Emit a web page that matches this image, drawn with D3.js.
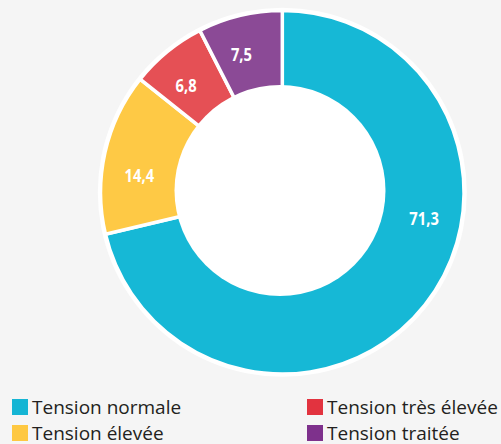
<!DOCTYPE html>
<html>
<head>
<meta charset="utf-8">
<script src="https://cdn.jsdelivr.net/npm/d3@7"></script>
<style>
  html, body { margin: 0; padding: 0; background: #f5f5f5; }
  svg { display: block; }
</style>
</head>
<body>
<svg id="chart" width="501" height="444"></svg>
<script>
// Répartition de la tension artérielle (%)
const categories = ["Tension normale", "Tension élevée", "Tension très élevée", "Tension traitée"];
const values = [71.3, 14.4, 6.8, 7.5];
const valueLabels = ["71,3", "14,4", "6,8", "7,5"];
const sliceColors = ["#16b8d6", "#fec945", "#e55055", "#8b4a96"];
const legendColors = ["#15b5d4", "#fec841", "#e2333f", "#7e318c"];
// legend placement order: column-major (left column first)
const legendOrder = [0, 1, 2, 3];

const svg = d3.select("#chart");
const cx = 282.3, cy = 192.3;
const rOuter = 180, rInner = 105.5;

const pie = d3.pie().sort(null).value(d => d)
  .startAngle(0).endAngle(2 * Math.PI);
const arcs = pie(values);

const g = svg.append("g").attr("transform", `translate(${cx},${cy})`);

// white rim around the ring
g.append("circle").attr("r", rOuter + 4.5).attr("fill", "#ffffff");

const arc = d3.arc().innerRadius(0).outerRadius(rOuter + 1.75);
g.selectAll("path.slice")
  .data(arcs)
  .join("path")
  .attr("class", "slice")
  .attr("d", arc)
  .attr("fill", (d, i) => sliceColors[i])
  .attr("stroke", "#ffffff")
  .attr("stroke-width", 3.5)
  .attr("stroke-linejoin", "miter");

// hole of the donut
g.append("circle")
  .attr("cx", -2.3).attr("cy", -1.8)
  .attr("r", rInner)
  .attr("fill", "#ffffff");

// value labels, placed inside the ring at 39% of each slice's sweep
const labelRadius = 144;
const labelAngle = d => d.startAngle + 0.39 * (d.endAngle - d.startAngle);
g.selectAll("text.value")
  .data(arcs)
  .join("text")
  .attr("class", "value")
  .attr("transform", d =>
    `translate(${labelRadius * Math.sin(labelAngle(d))},${-labelRadius * Math.cos(labelAngle(d))}) scale(0.82,1)`)
  .attr("text-anchor", "middle")
  .attr("dominant-baseline", "central")
  .attr("fill", "#ffffff")
  .attr("font-family", "'Open Sans', sans-serif")
  .attr("font-weight", 700)
  .attr("font-size", 18)
  .text((d, i) => valueLabels[i]);

// legend: two columns, two rows
const colX = d3.scaleOrdinal().domain([0, 1]).range([12, 307]);
const rowY = d3.scaleOrdinal().domain([0, 1]).range([399, 425]);
const legend = svg.append("g");
const items = legend.selectAll("g.item")
  .data(legendOrder)
  .join("g")
  .attr("class", "item")
  .attr("transform", (d, k) => `translate(${colX(Math.floor(k / 2))},${rowY(k % 2)})`);

items.append("rect")
  .attr("width", 16).attr("height", 16)
  .attr("fill", d => legendColors[d]);

items.append("text")
  .attr("x", 20)
  .attr("y", 15)
  .attr("fill", "#231f20")
  .attr("font-family", "'Open Sans', 'Noto Sans', sans-serif")
  .attr("font-size", 19)
  .text(d => categories[d]);
</script>
</body>
</html>
